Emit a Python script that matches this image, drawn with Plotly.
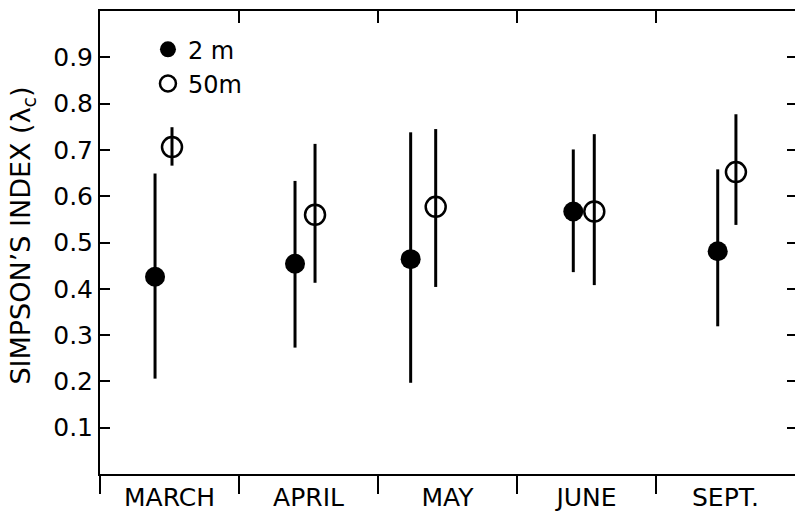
import plotly.graph_objects as go

# Sampling months
months = ["MARCH", "APRIL", "MAY", "JUNE", "SEPT."]

# Simpson's index at 2 m: mean with lower / upper range
mean_2m = [0.426, 0.454, 0.464, 0.567, 0.481]
low_2m = [0.206, 0.273, 0.197, 0.436, 0.319]
high_2m = [0.649, 0.633, 0.738, 0.701, 0.658]

# Simpson's index at 50 m: mean with lower / upper range
mean_50m = [0.706, 0.560, 0.577, 0.567, 0.652]
low_50m = [0.666, 0.413, 0.404, 0.408, 0.538]
high_50m = [0.749, 0.713, 0.745, 0.734, 0.777]

# y-axis tick values
y_ticks = [0.1, 0.2, 0.3, 0.4, 0.5, 0.6, 0.7, 0.8, 0.9]

# horizontal placement of each depth inside its month slot
shift_2m = [-0.104, -0.097, -0.265, -0.095, -0.056]
shift_50m = [0.018, 0.047, -0.085, 0.056, 0.075]

centers = [i + 0.5 for i in range(len(months))]
x_2m = [c + s for c, s in zip(centers, shift_2m)]
x_50m = [c + s for c, s in zip(centers, shift_50m)]

FONT = "DejaVu Sans"

fig = go.Figure()

fig.add_trace(go.Scatter(
    x=x_2m, y=mean_2m, mode="markers", name="2 m",
    marker=dict(symbol="circle", size=20, color="black"),
    error_y=dict(type="data", symmetric=False,
                 array=[h - m for h, m in zip(high_2m, mean_2m)],
                 arrayminus=[m - l for m, l in zip(mean_2m, low_2m)],
                 thickness=3, width=0, color="black"),
))

fig.add_trace(go.Scatter(
    x=x_50m, y=mean_50m, mode="markers", name="50m",
    marker=dict(symbol="circle-open", size=20, color="black",
                line=dict(width=2.5, color="black")),
    error_y=dict(type="data", symmetric=False,
                 array=[h - m for h, m in zip(high_50m, mean_50m)],
                 arrayminus=[m - l for m, l in zip(mean_50m, low_50m)],
                 thickness=3, width=0, color="black"),
))

# invisible trace so the top / right frame axes get drawn
fig.add_trace(go.Scatter(
    x=x_2m, y=mean_2m, xaxis="x2", yaxis="y2", mode="markers",
    marker=dict(opacity=0), showlegend=False, hoverinfo="skip",
))

n = len(months)

fig.update_layout(
    width=795, height=512,
    margin=dict(l=100, r=0, t=11, b=32),
    paper_bgcolor="white", plot_bgcolor="white",
    font=dict(family=FONT, size=22, color="black"),
    showlegend=True,
    legend=dict(x=0.069, y=0.965, xanchor="left", yanchor="top",
                bgcolor="rgba(0,0,0,0)", font=dict(size=24),
                itemsizing="trace", tracegroupgap=0),
    xaxis=dict(
        range=[0, n], showgrid=False, zeroline=False,
        showline=True, linewidth=2, linecolor="black",
        tickmode="array", tickvals=centers, ticktext=months,
        ticks="", tickfont=dict(size=25),
        minor=dict(tickmode="array", tickvals=list(range(n)),
                   ticks="outside", ticklen=18, tickwidth=2,
                   tickcolor="black", showgrid=False),
    ),
    xaxis2=dict(
        range=[0, n], overlaying="x", side="top",
        showgrid=False, zeroline=False,
        showline=True, linewidth=2, linecolor="black",
        tickmode="array", tickvals=list(range(1, n)),
        ticks="inside", ticklen=12, tickwidth=2, tickcolor="black",
        showticklabels=False,
    ),
    yaxis=dict(
        range=[0, 1], showgrid=False, zeroline=False,
        showline=True, linewidth=2, linecolor="black",
        tickmode="array", tickvals=y_ticks,
        ticktext=[f"{v:.1f}" for v in y_ticks],
        ticks="inside", ticklen=10, tickwidth=2, tickcolor="black",
        tickfont=dict(size=25), ticklabelstandoff=0,
    ),
    yaxis2=dict(
        range=[0, 1], overlaying="y", side="right",
        showgrid=False, zeroline=False, showline=False,
        tickmode="array", tickvals=y_ticks,
        ticks="inside", ticklen=8, tickwidth=2, tickcolor="black",
        showticklabels=False,
    ),
)

fig.add_annotation(
    text="SIMPSON’S INDEX (λ<sub>c</sub>)",
    xref="paper", yref="paper",
    x=-77 / 695, y=0.515, xanchor="center", yanchor="middle",
    textangle=-90, showarrow=False,
    font=dict(family=FONT, size=27, color="black"),
)

fig.write_html("out.html")
